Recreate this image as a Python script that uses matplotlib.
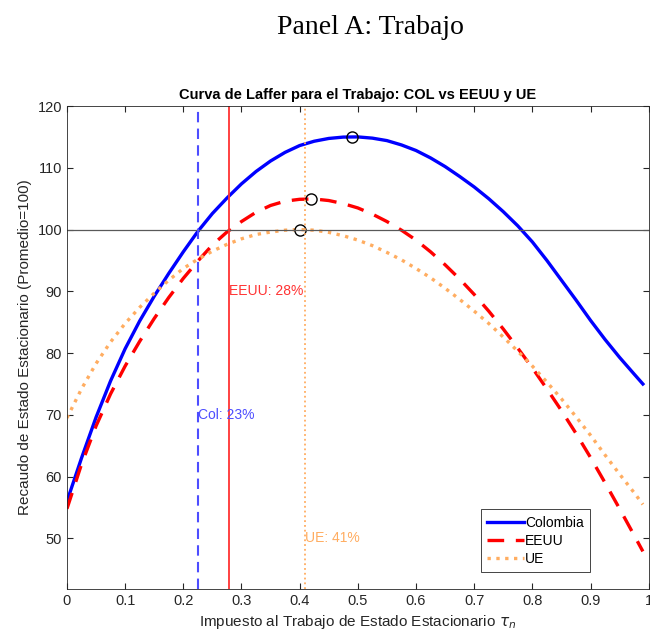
import numpy as np
import matplotlib.pyplot as plt

# tasas de impuesto al trabajo (eje x): malla de 0.025 hasta 0.975 y el ultimo punto 0.99
tau = np.append(np.arange(0, 0.99, 0.025), 0.99)

# recaudo de estado estacionario (promedio = 100)
rec_col = [56.0, 63.0, 69.6, 75.5, 80.7, 85.2, 89.2, 92.9, 96.4, 99.7,
           102.6, 105.1, 107.4, 109.4, 111.1, 112.5, 113.6, 114.3, 114.75, 114.97,
           115.0, 114.8, 114.4, 113.7, 112.8, 111.6, 110.2, 108.6, 106.9, 105.0,
           102.9, 100.6, 98.0, 95.0, 91.8, 88.6, 85.3, 82.2, 79.3, 76.6,
           75.0]
rec_eeuu = [54.8, 62.0, 68.2, 73.4, 77.9, 81.9, 85.6, 89.0, 92.1, 94.9,
            97.5, 99.6, 101.3, 102.8, 103.9, 104.6, 104.9, 104.95, 104.7, 104.2,
            103.5, 102.5, 101.3, 99.9, 98.3, 96.4, 94.3, 92.0, 89.5, 86.8,
            83.9, 80.8, 77.6, 74.2, 70.7, 67.0, 63.1, 59.0, 54.8, 50.5,
            47.9]
rec_ue = [69.5, 74.2, 78.3, 81.8, 84.8, 87.4, 89.7, 91.8, 93.7, 95.2,
          96.5, 97.6, 98.5, 99.2, 99.6, 99.9, 100.0, 99.9, 99.55, 99.0,
          98.3, 97.4, 96.3, 95.1, 93.7, 92.2, 90.5, 88.7, 86.8, 84.8,
          82.6, 80.3, 77.9, 75.3, 72.6, 69.7, 66.7, 63.5, 60.4, 57.4,
          55.5]

# maximos de cada curva
pico_x = [0.49, 0.42, 0.40]
pico_y = [115.0, 104.9, 100.0]

# tasas actuales
tasa_col = 0.226
tasa_eeuu = 0.279
tasa_ue = 0.41

c_azul = (0.3, 0.3, 1.0)
c_rojo = (1.0, 0.2, 0.2)
c_nar = (1.0, 0.68, 0.38)
c_eje = (0.15, 0.15, 0.15)

plt.rcParams['font.family'] = ['Liberation Sans', 'DejaVu Sans']

fig = plt.figure(figsize=(6.5, 6.41), dpi=100)
ax = fig.add_axes([0.103, 0.081, 0.895, 0.7536])

fig.text(0.57, 0.957, 'Panel A: Trabajo', ha='center', va='center',
         fontsize=20, family=['Liberation Serif', 'DejaVu Serif'])

ax.plot(tau, rec_col, color=(0, 0, 1), linewidth=2.4, label='Colombia')
ax.plot(tau, rec_eeuu, color=(1, 0, 0), linewidth=2.4, dashes=(5, 3.5), label='EEUU')
ax.plot(tau, rec_ue, color=c_nar, linewidth=2.4, linestyle=':', label='UE')

ax.plot(pico_x, pico_y, 'o', markersize=8, markerfacecolor='none',
        markeredgecolor='k', markeredgewidth=1.0)

ax.axhline(100, color=(0.35, 0.35, 0.35), linewidth=0.9)
ax.axvline(tasa_col, color=c_azul, linewidth=1.5, dashes=(5, 3))
ax.axvline(tasa_eeuu, color=c_rojo, linewidth=1.3)
ax.axvline(tasa_ue, color=c_nar, linewidth=1.3, linestyle=':')

ax.text(tasa_col, 70, 'Col: %d%%' % round(tasa_col * 100), color=c_azul,
        fontsize=10, ha='left', va='center')
ax.text(tasa_eeuu, 90, 'EEUU: %d%%' % round(tasa_eeuu * 100), color=c_rojo,
        fontsize=10, ha='left', va='center')
ax.text(tasa_ue, 50, 'UE: %d%%' % round(tasa_ue * 100), color=c_nar,
        fontsize=10, ha='left', va='center')

ax.set_xlim(0, 1)
ax.set_ylim(41.8, 120)
ax.set_xticks(np.arange(0, 1.01, 0.1))
ax.set_xticklabels(['0', '0.1', '0.2', '0.3', '0.4', '0.5', '0.6', '0.7', '0.8', '0.9', '1'])
ax.set_yticks(np.arange(50, 121, 10))

ax.tick_params(direction='in', top=True, right=True, labelsize=10.5,
               color=c_eje, labelcolor=c_eje, length=4)
for s in ax.spines.values():
    s.set_color(c_eje)
    s.set_linewidth(0.6)

ax.set_title('Curva de Laffer para el Trabajo: COL vs EEUU y UE',
             fontsize=10.5, fontweight='bold', pad=5)
ax.set_xlabel(r'Impuesto al Trabajo de Estado Estacionario $\tau_n$', fontsize=11,
              color=c_eje)
ax.set_ylabel('Recaudo de Estado Estacionario (Promedio=100)', fontsize=11,
              color=c_eje)

leg = ax.legend(loc='lower right', bbox_to_anchor=(0.899, 0.035), fontsize=10,
                handlelength=2.6, handletextpad=0.1, borderpad=0.45,
                borderaxespad=0, labelspacing=0.3, fancybox=False,
                framealpha=1, edgecolor=c_eje)
leg.get_frame().set_linewidth(0.6)

fig.savefig('out.png', dpi=100)
